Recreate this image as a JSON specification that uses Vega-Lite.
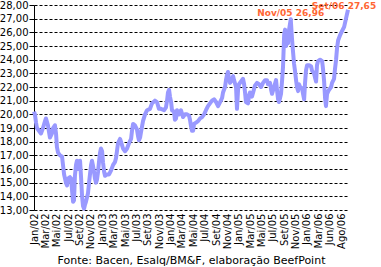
{
  "$schema": "https://vega.github.io/schema/vega-lite/v6.json",
  "width": 314,
  "height": 205,
  "autosize": "none",
  "padding": {"left": 34, "top": 5, "right": 33, "bottom": 57},
  "background": "white",
  "config": {"view": {"stroke": null}, "font": "DejaVu Sans"},
  "datasets": {
    "prices": [
      {"date": "2002-01-02", "price": 20.2}, {"date": "2002-01-07", "price": 20.0}, {"date": "2002-01-13", "price": 19.4}, {"date": "2002-01-18", "price": 19.0},
      {"date": "2002-01-29", "price": 18.8}, {"date": "2002-02-09", "price": 18.6}, {"date": "2002-02-20", "price": 19.0}, {"date": "2002-03-03", "price": 19.5},
      {"date": "2002-03-08", "price": 19.7}, {"date": "2002-03-19", "price": 19.2}, {"date": "2002-03-25", "price": 18.7}, {"date": "2002-03-30", "price": 18.3},
      {"date": "2002-04-10", "price": 18.6}, {"date": "2002-04-16", "price": 19.0}, {"date": "2002-04-26", "price": 19.2}, {"date": "2002-05-02", "price": 18.6},
      {"date": "2002-05-07", "price": 17.6}, {"date": "2002-05-13", "price": 17.2}, {"date": "2002-05-24", "price": 17.0}, {"date": "2002-06-04", "price": 16.9},
      {"date": "2002-06-09", "price": 16.3}, {"date": "2002-06-15", "price": 15.6}, {"date": "2002-06-25", "price": 15.0}, {"date": "2002-07-01", "price": 14.8},
      {"date": "2002-07-06", "price": 15.3}, {"date": "2002-07-17", "price": 15.4}, {"date": "2002-07-23", "price": 15.3}, {"date": "2002-07-28", "price": 14.5},
      {"date": "2002-08-03", "price": 13.6}, {"date": "2002-08-08", "price": 13.7}, {"date": "2002-08-13", "price": 15.5}, {"date": "2002-08-19", "price": 16.3},
      {"date": "2002-08-24", "price": 16.6}, {"date": "2002-08-30", "price": 16.0}, {"date": "2002-09-04", "price": 16.2}, {"date": "2002-09-10", "price": 16.6},
      {"date": "2002-09-15", "price": 15.5}, {"date": "2002-09-21", "price": 14.0}, {"date": "2002-09-26", "price": 13.3}, {"date": "2002-10-02", "price": 13.1},
      {"date": "2002-10-07", "price": 13.4}, {"date": "2002-10-12", "price": 13.6}, {"date": "2002-10-23", "price": 14.2}, {"date": "2002-10-29", "price": 15.0},
      {"date": "2002-11-03", "price": 15.6}, {"date": "2002-11-09", "price": 16.3}, {"date": "2002-11-14", "price": 16.6}, {"date": "2002-11-20", "price": 16.2},
      {"date": "2002-11-25", "price": 15.8}, {"date": "2002-11-30", "price": 15.3}, {"date": "2002-12-06", "price": 15.0}, {"date": "2002-12-11", "price": 15.2},
      {"date": "2002-12-17", "price": 15.8}, {"date": "2002-12-22", "price": 16.5}, {"date": "2002-12-28", "price": 17.2}, {"date": "2003-01-02", "price": 17.5},
      {"date": "2003-01-08", "price": 17.3}, {"date": "2003-01-13", "price": 16.5}, {"date": "2003-01-19", "price": 15.8}, {"date": "2003-01-24", "price": 15.5},
      {"date": "2003-02-04", "price": 15.6}, {"date": "2003-02-15", "price": 15.6}, {"date": "2003-02-26", "price": 15.9}, {"date": "2003-03-09", "price": 16.3},
      {"date": "2003-03-19", "price": 16.5}, {"date": "2003-03-25", "price": 16.8}, {"date": "2003-03-30", "price": 17.3}, {"date": "2003-04-05", "price": 17.9},
      {"date": "2003-04-16", "price": 18.2}, {"date": "2003-04-21", "price": 18.0}, {"date": "2003-05-02", "price": 17.5}, {"date": "2003-05-13", "price": 17.3},
      {"date": "2003-05-24", "price": 17.5}, {"date": "2003-06-04", "price": 17.9}, {"date": "2003-06-15", "price": 18.2}, {"date": "2003-06-20", "price": 18.8},
      {"date": "2003-06-26", "price": 19.3}, {"date": "2003-07-06", "price": 19.2}, {"date": "2003-07-17", "price": 18.9}, {"date": "2003-07-23", "price": 18.4},
      {"date": "2003-07-28", "price": 18.1}, {"date": "2003-08-03", "price": 18.3}, {"date": "2003-08-08", "price": 18.7}, {"date": "2003-08-19", "price": 19.5},
      {"date": "2003-08-30", "price": 20.0}, {"date": "2003-09-10", "price": 20.3}, {"date": "2003-09-26", "price": 20.4}, {"date": "2003-10-07", "price": 20.8},
      {"date": "2003-10-23", "price": 21.0}, {"date": "2003-11-03", "price": 20.9}, {"date": "2003-11-14", "price": 20.4}, {"date": "2003-11-25", "price": 20.4},
      {"date": "2003-12-12", "price": 20.3}, {"date": "2003-12-22", "price": 20.5}, {"date": "2003-12-28", "price": 21.0}, {"date": "2004-01-02", "price": 21.6},
      {"date": "2004-01-08", "price": 21.8}, {"date": "2004-01-13", "price": 21.3}, {"date": "2004-01-19", "price": 20.9}, {"date": "2004-01-24", "price": 20.3},
      {"date": "2004-02-04", "price": 20.2}, {"date": "2004-02-09", "price": 19.6}, {"date": "2004-02-15", "price": 19.7}, {"date": "2004-02-20", "price": 20.3},
      {"date": "2004-03-02", "price": 20.0}, {"date": "2004-03-13", "price": 20.3}, {"date": "2004-03-24", "price": 19.8}, {"date": "2004-04-04", "price": 20.0},
      {"date": "2004-04-15", "price": 20.0}, {"date": "2004-04-26", "price": 19.9}, {"date": "2004-05-01", "price": 19.6}, {"date": "2004-05-07", "price": 19.1},
      {"date": "2004-05-12", "price": 18.8}, {"date": "2004-05-18", "price": 18.8}, {"date": "2004-05-23", "price": 19.3}, {"date": "2004-06-03", "price": 19.4},
      {"date": "2004-06-14", "price": 19.5}, {"date": "2004-06-25", "price": 19.7}, {"date": "2004-07-06", "price": 19.8}, {"date": "2004-07-17", "price": 20.0},
      {"date": "2004-07-27", "price": 20.3}, {"date": "2004-08-07", "price": 20.6}, {"date": "2004-08-18", "price": 20.8}, {"date": "2004-08-29", "price": 21.0},
      {"date": "2004-09-09", "price": 21.1}, {"date": "2004-09-20", "price": 20.9}, {"date": "2004-10-01", "price": 20.6}, {"date": "2004-10-12", "price": 20.9},
      {"date": "2004-10-23", "price": 21.2}, {"date": "2004-10-28", "price": 21.6}, {"date": "2004-11-08", "price": 22.0}, {"date": "2004-11-13", "price": 22.5},
      {"date": "2004-11-19", "price": 22.9}, {"date": "2004-11-24", "price": 23.1}, {"date": "2004-11-30", "price": 22.6}, {"date": "2004-12-05", "price": 22.3},
      {"date": "2004-12-16", "price": 22.5}, {"date": "2004-12-22", "price": 22.8}, {"date": "2004-12-27", "price": 22.5}, {"date": "2005-01-07", "price": 22.0},
      {"date": "2005-01-12", "price": 20.4}, {"date": "2005-01-18", "price": 21.8}, {"date": "2005-01-23", "price": 22.2}, {"date": "2005-02-03", "price": 22.4},
      {"date": "2005-02-14", "price": 22.6}, {"date": "2005-02-20", "price": 22.2}, {"date": "2005-02-25", "price": 21.6}, {"date": "2005-03-02", "price": 20.9},
      {"date": "2005-03-13", "price": 20.8}, {"date": "2005-03-19", "price": 21.4}, {"date": "2005-03-24", "price": 21.6}, {"date": "2005-04-04", "price": 21.3},
      {"date": "2005-04-10", "price": 21.6}, {"date": "2005-04-20", "price": 22.1}, {"date": "2005-05-01", "price": 22.3}, {"date": "2005-05-12", "price": 22.2},
      {"date": "2005-05-23", "price": 22.0}, {"date": "2005-06-03", "price": 22.3}, {"date": "2005-06-14", "price": 22.5}, {"date": "2005-06-25", "price": 22.5},
      {"date": "2005-06-30", "price": 22.2}, {"date": "2005-07-11", "price": 22.3}, {"date": "2005-07-17", "price": 21.8}, {"date": "2005-07-22", "price": 21.5},
      {"date": "2005-08-02", "price": 22.0}, {"date": "2005-08-13", "price": 22.5}, {"date": "2005-08-18", "price": 21.8}, {"date": "2005-08-24", "price": 21.1},
      {"date": "2005-08-29", "price": 20.9}, {"date": "2005-09-04", "price": 21.2}, {"date": "2005-09-09", "price": 21.5}, {"date": "2005-09-15", "price": 22.5},
      {"date": "2005-09-20", "price": 23.5}, {"date": "2005-09-26", "price": 25.8}, {"date": "2005-10-01", "price": 26.2}, {"date": "2005-10-06", "price": 25.0},
      {"date": "2005-10-12", "price": 25.4}, {"date": "2005-10-17", "price": 25.2}, {"date": "2005-10-23", "price": 26.2}, {"date": "2005-11-01", "price": 26.96},
      {"date": "2005-11-08", "price": 25.5}, {"date": "2005-11-14", "price": 24.5}, {"date": "2005-11-19", "price": 23.7}, {"date": "2005-11-24", "price": 23.2},
      {"date": "2005-11-30", "price": 22.5}, {"date": "2005-12-05", "price": 22.0}, {"date": "2005-12-11", "price": 21.7}, {"date": "2005-12-16", "price": 22.2},
      {"date": "2005-12-22", "price": 22.0}, {"date": "2006-01-02", "price": 21.9}, {"date": "2006-01-07", "price": 21.5}, {"date": "2006-01-13", "price": 21.1},
      {"date": "2006-01-18", "price": 22.3}, {"date": "2006-01-23", "price": 23.2}, {"date": "2006-01-29", "price": 23.6}, {"date": "2006-02-09", "price": 23.6},
      {"date": "2006-02-20", "price": 23.5}, {"date": "2006-02-25", "price": 23.2}, {"date": "2006-03-08", "price": 23.0}, {"date": "2006-03-13", "price": 22.7},
      {"date": "2006-03-19", "price": 22.4}, {"date": "2006-03-24", "price": 23.6}, {"date": "2006-03-30", "price": 23.9}, {"date": "2006-04-10", "price": 24.0},
      {"date": "2006-04-21", "price": 23.9}, {"date": "2006-04-26", "price": 23.3}, {"date": "2006-05-02", "price": 22.4}, {"date": "2006-05-07", "price": 21.2},
      {"date": "2006-05-12", "price": 20.6}, {"date": "2006-05-18", "price": 21.5}, {"date": "2006-05-29", "price": 21.8}, {"date": "2006-06-09", "price": 22.0},
      {"date": "2006-06-14", "price": 22.3}, {"date": "2006-06-25", "price": 22.6}, {"date": "2006-06-30", "price": 23.3}, {"date": "2006-07-06", "price": 24.0},
      {"date": "2006-07-11", "price": 24.8}, {"date": "2006-07-17", "price": 25.4}, {"date": "2006-07-28", "price": 25.8}, {"date": "2006-08-08", "price": 26.1},
      {"date": "2006-08-19", "price": 26.4}, {"date": "2006-08-29", "price": 27.0}, {"date": "2006-09-09", "price": 27.65}
    ],
    "noteNov": [
      {"date": "2005-11-01", "price": 26.96, "label": "Nov/05 26,96"}
    ],
    "noteSet": [
      {"date": "2006-09-09", "price": 27.65, "label": "Set/06 27,65"}
    ]
  },
  "encoding": {
    "x": {
      "field": "date",
      "type": "temporal",
      "scale": {"type": "utc", "nice": false, "domain": [{"year": 2002, "month": 1, "date": 2, "utc": true}, {"year": 2006, "month": 9, "date": 9, "utc": true}]},
      "axis": {
        "values": [
          {"year": 2002, "month": 1, "date": 2, "utc": true}, {"year": 2002, "month": 3, "date": 5, "utc": true},
          {"year": 2002, "month": 5, "date": 6, "utc": true}, {"year": 2002, "month": 7, "date": 7, "utc": true},
          {"year": 2002, "month": 9, "date": 7, "utc": true}, {"year": 2002, "month": 11, "date": 8, "utc": true},
          {"year": 2003, "month": 1, "date": 9, "utc": true}, {"year": 2003, "month": 3, "date": 12, "utc": true},
          {"year": 2003, "month": 5, "date": 13, "utc": true}, {"year": 2003, "month": 7, "date": 14, "utc": true},
          {"year": 2003, "month": 9, "date": 14, "utc": true}, {"year": 2003, "month": 11, "date": 15, "utc": true},
          {"year": 2004, "month": 1, "date": 16, "utc": true}, {"year": 2004, "month": 3, "date": 18, "utc": true},
          {"year": 2004, "month": 5, "date": 19, "utc": true}, {"year": 2004, "month": 7, "date": 20, "utc": true},
          {"year": 2004, "month": 9, "date": 20, "utc": true}, {"year": 2004, "month": 11, "date": 21, "utc": true},
          {"year": 2005, "month": 1, "date": 21, "utc": true}, {"year": 2005, "month": 3, "date": 24, "utc": true},
          {"year": 2005, "month": 5, "date": 25, "utc": true}, {"year": 2005, "month": 7, "date": 26, "utc": true},
          {"year": 2005, "month": 9, "date": 26, "utc": true}, {"year": 2005, "month": 11, "date": 27, "utc": true},
          {"year": 2006, "month": 1, "date": 28, "utc": true}, {"year": 2006, "month": 3, "date": 30, "utc": true},
          {"year": 2006, "month": 6, "date": 2, "utc": true}, {"year": 2006, "month": 8, "date": 3, "utc": true}
        ],
        "labelExpr": "['Jan','Fev','Mar','Abr','Mai','Jun','Jul','Ago','Set','Out','Nov','Dez'][utcmonth(datum.value)] + '/' + utcFormat(datum.value, '%y')",
        "labelAngle": 270,
        "labelAlign": "right",
        "labelBaseline": "middle",
        "labelPadding": 3,
        "labelFont": "DejaVu Sans",
        "labelFontSize": 10,
        "labelColor": "#000000",
        "labelOverlap": false,
        "labelFlush": false,
        "labelBound": false,
        "ticks": false,
        "domain": false,
        "grid": false,
        "title": "Fonte: Bacen, Esalq/BM&F, elaboração BeefPoint",
        "titleFont": "DejaVu Sans",
        "titleFontSize": 11,
        "titleFontWeight": "normal",
        "titleColor": "#000000",
        "titleBaseline": "alphabetic",
        "titleY": 53
      }
    },
    "y": {
      "field": "price",
      "type": "quantitative",
      "scale": {"domain": [13, 28], "nice": false, "zero": false},
      "axis": {
        "values": [13, 14, 15, 16, 17, 18, 19, 20, 21, 22, 23, 24, 25, 26, 27, 28],
        "labelExpr": "replace(format(datum.value, '.2f'), '.', ',')",
        "labelFont": "DejaVu Sans",
        "labelFontSize": 10,
        "labelColor": "#000000",
        "labelPadding": 1,
        "tickSize": 5,
        "tickColor": "#000000",
        "domainColor": "#000000",
        "grid": true,
        "gridColor": "#000000",
        "gridOpacity": 1,
        "gridDash": [3, 2],
        "title": null,
        "minExtent": 34,
        "maxExtent": 34
      }
    }
  },
  "layer": [
    {
      "data": {"name": "prices"},
      "mark": {"type": "line", "color": "#9999ff", "strokeWidth": 4, "strokeJoin": "round"}
    },
    {
      "data": {"name": "noteNov"},
      "mark": {"type": "text", "color": "#ff6633", "font": "DejaVu Sans", "fontSize": 9, "fontWeight": "bold", "align": "center", "baseline": "alphabetic", "dy": -3},
      "encoding": {"text": {"field": "label"}}
    },
    {
      "data": {"name": "noteSet"},
      "mark": {"type": "text", "color": "#ff6633", "font": "DejaVu Sans", "fontSize": 9, "fontWeight": "bold", "align": "center", "baseline": "alphabetic", "dx": -4, "dy": -1},
      "encoding": {"text": {"field": "label"}}
    }
  ]
}
